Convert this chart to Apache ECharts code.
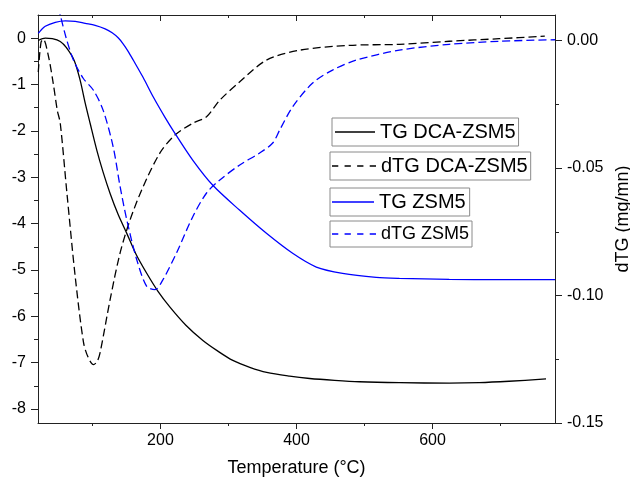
<!DOCTYPE html>
<html>
<head>
<meta charset="utf-8">
<script src="https://cdn.jsdelivr.net/npm/echarts@6/dist/echarts.min.js"></script>
<style>
html,body{margin:0;padding:0;background:#fff;}
#chart{width:630px;height:482px;}
</style>
</head>
<body>
<div id="chart"></div>
<script>
// ---- data (temperature °C, value) ----
const tgDcaT = [20.4, 30.7, 41.0, 52.7, 61.5, 73.2, 82.0, 89.4, 96.7, 106.5, 115.7, 126.0, 137.7, 150.5, 164.1, 179.8, 196.4, 214.0, 237.4, 262.4, 284.4, 306.4, 331.3, 356.2, 389.9, 419.3, 455.9, 492.6, 551.2, 624.5, 668.5, 712.5, 766.8];
const tgDcaV = [-0.05, 0.0, -0.01, -0.07, -0.20, -0.48, -0.91, -1.40, -1.84, -2.42, -2.89, -3.35, -3.80, -4.21, -4.66, -5.07, -5.46, -5.80, -6.19, -6.52, -6.75, -6.95, -7.10, -7.21, -7.29, -7.34, -7.38, -7.41, -7.43, -7.44, -7.43, -7.40, -7.35];

const dtgDcaT = [20.4, 24.4, 27.8, 35.1, 42.4, 48.3, 52.7, 62.5, 74.7, 86.9, 93.8, 101.5, 106.9, 111.3, 126.0, 140.7, 155.3, 174.4, 199.3, 221.3, 247.7, 267.8, 287.3, 316.6, 355.8, 404.6, 477.9, 551.2, 624.5, 697.8, 765.0];
const dtgDcaV = [-0.0124, -0.0007, 0.0005, -0.0058, -0.0168, -0.0273, -0.0324, -0.0598, -0.0926, -0.1184, -0.1243, -0.1271, -0.1259, -0.1224, -0.1016, -0.0833, -0.0704, -0.0574, -0.0441, -0.0371, -0.0324, -0.0299, -0.0234, -0.0162, -0.0077, -0.0038, -0.0019, -0.0015, -0.0003, 0.0007, 0.0017];

const tgZsmT = [20.4, 30.7, 45.4, 60.0, 74.7, 89.4, 104.0, 118.7, 129.0, 137.8, 145.1, 152.5, 160.2, 174.4, 189.5, 206.7, 221.3, 247.7, 277.0, 316.6, 355.8, 394.3, 429.1, 467.7, 517.1, 551.2, 624.5, 697.8, 780.0];
const tgZsmV = [0.105, 0.256, 0.343, 0.375, 0.364, 0.321, 0.278, 0.202, 0.116, 0.008, -0.121, -0.283, -0.477, -0.844, -1.269, -1.707, -2.052, -2.634, -3.173, -3.713, -4.209, -4.640, -4.936, -5.072, -5.158, -5.180, -5.201, -5.208, -5.208];

const dtgZsmT = [45.4, 52.7, 61.5, 72.2, 86.4, 101.5, 115.7, 130.4, 140.7, 150.5, 165.2, 179.8, 192.0, 203.7, 223.8, 247.7, 267.8, 287.3, 316.6, 345.9, 365.0, 375.3, 394.3, 423.7, 453.0, 487.7, 551.2, 624.5, 697.8, 780.0];
const dtgZsmV = [0.0177, 0.0100, 0.0009, -0.0077, -0.0148, -0.0195, -0.0273, -0.0416, -0.0573, -0.0703, -0.0860, -0.0964, -0.0977, -0.0938, -0.0832, -0.0690, -0.0598, -0.0547, -0.0488, -0.0441, -0.0402, -0.0351, -0.0260, -0.0167, -0.0116, -0.0077, -0.0038, -0.0015, -0.0003, 0.0003];

const xMajorTicks = [200, 400, 600];
const xMinorTicks = [100, 300, 500, 700];
const yLeftMajor = [0, -1, -2, -3, -4, -5, -6, -7, -8];
const yLeftMinor = [-0.5, -1.5, -2.5, -3.5, -4.5, -5.5, -6.5, -7.5];
const yRightMajor = [0, -0.05, -0.10, -0.15];
const yRightMinor = [-0.025, -0.075, -0.125];

const zip = (a, b) => a.map((t, i) => [t, b[i]]);
const FONT = 'Liberation Sans, Arial, sans-serif';
const AX = '#222';

const solidIcon = 'path://M0,0H42V1.4H0Z';
const dashIcon = 'path://M0,0H6V1.4H0Z M12,0H18V1.4H12Z M24,0H30V1.4H24Z M36,0H42V1.4H36Z';

function xAx(pos, showLine, ticks, len, inside, labels, extra) {
  return Object.assign({
    type: 'value', position: pos, min: 20, max: 780,
    splitLine: { show: false },
    axisLine: { show: showLine, onZero: false, lineStyle: { color: AX, width: 1 } },
    axisTick: { show: true, inside: inside, length: len, customValues: ticks, lineStyle: { color: AX, width: 1 } },
    axisLabel: labels ? { show: true, customValues: labels, fontSize: 16, color: '#000', fontFamily: FONT, margin: 10 } : { show: false }
  }, extra || {});
}
function yAx(pos, showLine, min, max, ticks, len, labels, fmt, extra) {
  return Object.assign({
    type: 'value', position: pos, min: min, max: max,
    splitLine: { show: false },
    axisLine: { show: showLine, onZero: false, lineStyle: { color: AX, width: 1 } },
    axisTick: { show: true, length: len, customValues: ticks, lineStyle: { color: AX, width: 1 } },
    axisLabel: labels ? { show: true, customValues: labels, fontSize: 16, color: '#000', fontFamily: FONT, margin: 12, formatter: fmt } : { show: false }
  }, extra || {});
}

function legendBox(name, left, top, icon, padding, itemWidth, fontSize) {
  return {
    data: [name], left: left, top: top, orient: 'vertical',
    padding: padding, itemWidth: itemWidth, itemHeight: 2, itemGap: 0,
    icon: icon, selectedMode: false,
    borderColor: '#8a8a8a', borderWidth: 1, backgroundColor: '#fff',
    textStyle: { fontSize: fontSize, color: '#000', fontFamily: FONT }
  };
}

const chart = echarts.init(document.getElementById('chart'), null, { renderer: 'canvas' });
chart.setOption({
  animation: false,
  backgroundColor: '#fff',
  grid: { left: 38, right: 75, top: 15, bottom: 59, containLabel: false, outerBoundsMode: 'none' },
  xAxis: [
    xAx('bottom', true, xMajorTicks, 6, false, xMajorTicks, {
      name: 'Temperature (°C)', nameLocation: 'middle', nameGap: 36,
      nameTextStyle: { fontSize: 18, color: '#000', fontFamily: FONT }
    }),
    xAx('bottom', false, xMinorTicks, 3, false, null),
    xAx('top', true, xMajorTicks, 6, true, null),
    xAx('top', false, xMinorTicks, 3, true, null)
  ],
  yAxis: [
    yAx('left', true, -8.3, 0.5, yLeftMajor, 7, yLeftMajor, v => String(v)),
    yAx('right', true, -0.15, 0.01, yRightMajor, 7, yRightMajor, v => v.toFixed(2), {
      name: 'dTG (mg/mn)', nameLocation: 'middle', nameRotate: 90, nameGap: 56,
      nameTextStyle: { fontSize: 18, color: '#000', fontFamily: FONT }
    }),
    yAx('left', false, -8.3, 0.5, yLeftMinor, 4, null),
    yAx('right', false, -0.15, 0.01, yRightMinor, 4, null)
  ],
  legend: [
    legendBox('TG DCA-ZSM5', 332, 118, solidIcon, [4, 3, 4, 3], 40, 20),
    legendBox('dTG DCA-ZSM5', 330, 152, dashIcon, [4, 3, 4, 2], 44, 20),
    legendBox('TG ZSM5', 330, 188, solidIcon, [4, 4, 4, 2], 42, 20),
    legendBox('dTG ZSM5', 330, 221, dashIcon, [4, 3, 4, 2], 44, 18)
  ],
  series: [
    { name: 'TG DCA-ZSM5', type: 'line', xAxisIndex: 0, yAxisIndex: 0, data: zip(tgDcaT, tgDcaV),
      symbol: 'none', smooth: 0.3, color: '#000', lineStyle: { color: '#000', width: 1.3 } },
    { name: 'dTG DCA-ZSM5', type: 'line', xAxisIndex: 0, yAxisIndex: 1, data: zip(dtgDcaT, dtgDcaV),
      symbol: 'none', smooth: 0.3, color: '#000', lineStyle: { color: '#000', width: 1.3, type: [8, 4] } },
    { name: 'TG ZSM5', type: 'line', xAxisIndex: 0, yAxisIndex: 0, data: zip(tgZsmT, tgZsmV),
      symbol: 'none', smooth: 0.3, color: '#0000ff', lineStyle: { color: '#0000ff', width: 1.3 } },
    { name: 'dTG ZSM5', type: 'line', xAxisIndex: 0, yAxisIndex: 1, data: zip(dtgZsmT, dtgZsmV),
      symbol: 'none', smooth: 0.3, color: '#0000ff', lineStyle: { color: '#0000ff', width: 1.3, type: [8, 4] } }
  ]
});
</script>
</body>
</html>
